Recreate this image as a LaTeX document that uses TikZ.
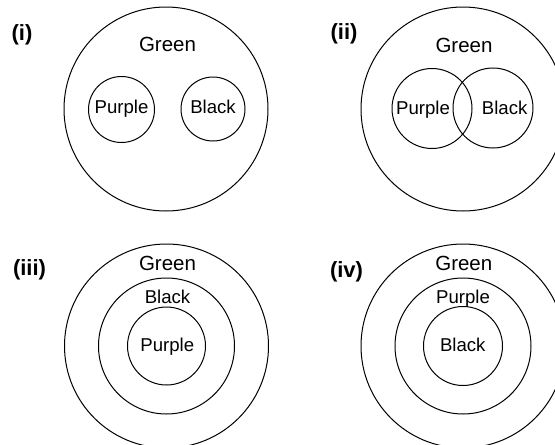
\documentclass[tikz,border=0pt]{standalone}
\usepackage{fontspec}
\setmainfont{Liberation Sans}
\usetikzlibrary{positioning}

\begin{document}
\begin{tikzpicture}[x=1pt, y=-1pt,
    set/.style={circle, draw, line width=1pt, inner sep=0pt},
    word/.style={font=\fontsize{18.6}{21}\selectfont, inner sep=0pt, text height=13.4pt, text depth=0pt},
    outerword/.style={word, font=\fontsize{20.5}{23}\selectfont, text height=14.7pt},
    tag/.style={font=\fontsize{22}{24}\selectfont\bfseries, inner sep=0pt, text height=16pt, text depth=4.6pt}]
    \useasboundingbox (0,0) rectangle (555,445);

    % (i) disjoint
    \node[set, minimum size=204pt] (G1) at (166,109) {};
    \node[set, minimum size=66pt] (P1) at (121.5,109.5) {};
    \node[set, minimum size=64pt] (B1) at (213,109) {};
    \node[outerword] (g1) at (167.5,44.5) {Green};
    \node[word] (p1) at (121.5,106.5) {Purple};
    \node[word] (b1) at (213,106.5) {Black};
    \node[tag] (t1) at (22,35) {(i)};

    % (ii) overlapping
    \node[set, minimum size=204pt] (G2) at (463,109) {};
    \node[set, minimum size=80pt] (P2) at (432,108.5) {};
    \node[set, minimum size=80pt] (B2) at (493,108) {};
    \node[outerword] (g2) at (464,45) {Green};
    \node[word] (p2) at (423,107.5) {Purple};
    \node[word] (b2) at (504.7,107.5) {Black};
    \node[tag] (t2) at (344,34) {(ii)};

    % (iii) purple inside black
    \node[set, minimum size=204pt] (G3) at (166.5,346) {};
    \node[set, minimum size=136pt] (B3) at (G3) {};
    \node[set, minimum size=78pt] (P3) at (G3) {};
    \node[outerword] (g3) at (167.5,263) {Green};
    \node[word] (b3) at (167.5,296.3) {Black};
    \node[word] (p3) at (167.3,344.5) {Purple};
    \node[tag] (t3) at (29.5,270) {(iii)};

    % (iv) black inside purple
    \node[set, minimum size=204pt] (G4) at (463,346) {};
    \node[set, minimum size=136pt] (P4) at (G4) {};
    \node[set, minimum size=79pt] (B4) at (G4) {};
    \node[outerword] (g4) at (463.8,263) {Green};
    \node[word] (p4) at (463,296.3) {Purple};
    \node[word] (b4) at (462.8,345) {Black};
    \node[tag] (t4) at (346.5,271.7) {(iv)};
\end{tikzpicture}
\end{document}
